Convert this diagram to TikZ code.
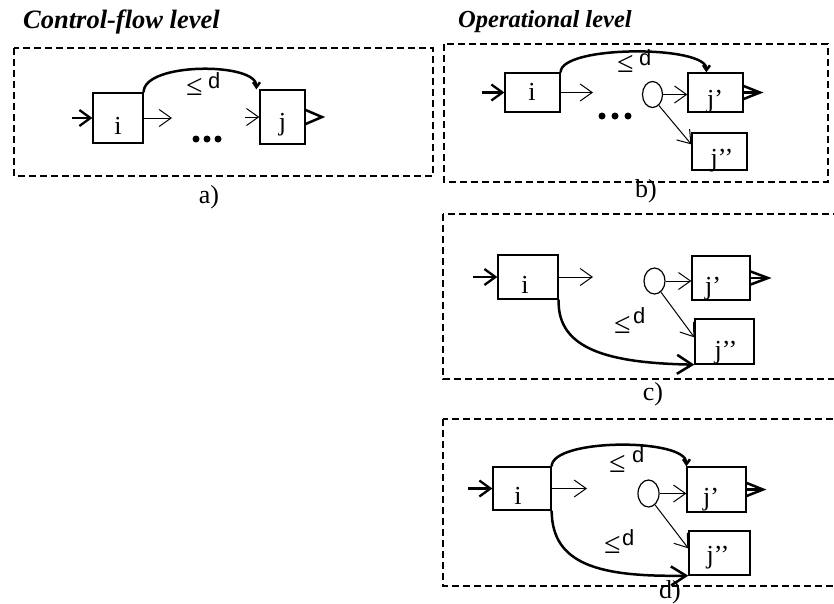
\documentclass[tikz,border=0pt]{standalone}
\usepackage{fontspec}
\setmainfont{Liberation Serif}
\newfontfamily\monof{Liberation Mono}
\usetikzlibrary{arrows.meta,shapes.geometric}
\newcommand{\leqd}[2]{{\fontsize{30}{30}\selectfont ≤}\hspace{#1pt}\raisebox{#2pt}{\monof d}}
\begin{document}
\begin{tikzpicture}[x=1pt,y=-1pt,
  dframe/.style={draw,dash pattern=on 7pt off 4pt,line width=1.2pt},
  blk/.style={draw,line width=1.3pt,inner sep=0pt},
  lbl/.style={font=\fontsize{26}{26}\selectfont,anchor=base,inner sep=0pt},
  ttl/.style={font=\bfseries\itshape,anchor=base west,inner sep=0pt},
  caplbl/.style={font=\fontsize{26}{26}\selectfont,anchor=base,inner sep=0pt},
  splitnode/.style={draw,ellipse,line width=1.2pt,minimum width=20pt,minimum height=26pt,inner sep=0pt},
  inarr/.style={line width=2.3pt,-{Straight Barb[length=11pt,width=16pt]}},
  flow/.style={line width=1pt,-{Straight Barb[length=12pt,width=17pt]}},
  outarr/.style={line width=2.5pt,line join=miter},
  dl/.style={line width=2.5pt,-{Straight Barb[length=5pt,width=7pt]}},
  dlbig/.style={line width=2.5pt,-{Straight Barb[length=15pt,width=19pt]}},
  dlab/.style={inner sep=0pt,anchor=base west,font=\fontsize{22}{22}\selectfont},
  dotnode/.style={fill,circle,inner sep=0pt,minimum size=7pt}
]
\useasboundingbox (0,0) rectangle (834,603);

% ---------------- titles
\node[ttl,font=\fontsize{26.5}{26.5}\selectfont\bfseries\itshape] (t1) at (23,28) {Control-flow level};
\node[ttl,font=\fontsize{24.5}{24.5}\selectfont\bfseries\itshape] (t2) at (458,27) {Operational level};

% ---------------- a)
\draw[dframe] (14,48) rectangle (433,176);
\node[blk,minimum width=50pt,minimum height=50pt] (ai) at (118,118) {};
\node[lbl] (ail) at (118,134) {i};
\node[blk,minimum width=45pt,minimum height=54pt] (aj) at (282.5,117) {};
\node[lbl] (ajl) at (282.5,130) {j};
\coordinate (ain) at (72,118);
\coordinate (aout) at (172,118);
\coordinate (ajin) at (245,117);
\coordinate (ajout) at (322,117);
\draw[inarr] (ain) -- (ai.west);
\draw[flow] (ai.east) -- (aout);
\draw[flow] (ajin) -- (aj.west);
\draw[outarr] ([yshift=7pt]aj.east) -- (ajout) -- ([yshift=-7pt]aj.east);
\node[dotnode] (ad1) at (196,139) {};
\node[dotnode] (ad2) at (207,139) {};
\node[dotnode] (ad3) at (218,139) {};
\draw[dl] (ai.north east) .. controls (143,62) and (257,62) .. ([xshift=-3pt]aj.north west);
\node[dlab] (ald) at (186,95) {\leqd{5}{7}};
\node[caplbl] (ac) at (209,203) {a)};

% ---------------- b)
\draw[dframe] (444,44) rectangle (828,182);
\node[blk,minimum width=55pt,minimum height=39pt] (bi) at (532.5,92.5) {};
\node[lbl] (bil) at (532,100) {i};
\node[blk,minimum width=55pt,minimum height=39pt] (bj1) at (715.5,92.5) {};
\node[lbl] (bj1l) at (715,107) {j’};
\node[blk,minimum width=55pt,minimum height=37pt] (bj2) at (719.5,151.5) {};
\node[lbl] (bj2l) at (722,166) {j’’};
\node[splitnode] (bc) at (652.5,94.5) {};
\coordinate (bin) at (482,92.5);
\coordinate (bout) at (593,92.5);
\coordinate (bjout) at (760,92.5);
\draw[inarr] (bin) -- (bi.west);
\draw[flow] (bi.east) -- (bout);
\draw[flow] (bc.east) -- (bc.east -| bj1.west);
\draw[flow] (bc.-60) -- ([yshift=-12pt]bj2.north west);
\draw[outarr] ([yshift=6.5pt]bj1.east) -- (bjout) -- ([yshift=-6.5pt]bj1.east);
\draw[outarr] (bj1.east) -- (bjout);
\node[dotnode] (bd1) at (602,116) {};
\node[dotnode] (bd2) at (615,116) {};
\node[dotnode] (bd3) at (628,116) {};
\draw[dl] (bi.north east) .. controls (560,45) and (707,45) .. ([xshift=19pt]bj1.north west);
\node[dlab] (bld) at (617,72) {\leqd{5}{7}};
\node[caplbl] (bcap) at (646,197) {b)};

% ---------------- c)
\draw[dframe] (443,214) rectangle (845,379);
\node[blk,minimum width=60pt,minimum height=44pt] (ci) at (528,277) {};
\node[lbl] (cil) at (525,293) {i};
\node[blk,minimum width=58pt,minimum height=44pt] (cj1) at (721,278) {};
\node[lbl] (cj1l) at (713,294) {j’};
\node[blk,minimum width=59pt,minimum height=45pt] (cj2) at (724.5,341.5) {};
\node[lbl] (cj2l) at (726,358) {j’’};
\node[splitnode,minimum width=21pt] (cc) at (654.5,281) {};
\coordinate (cin) at (473,277);
\coordinate (cout) at (593,277);
\coordinate (cjout) at (768,278);
\draw[inarr] (cin) -- (ci.west);
\draw[flow] (ci.east) -- (cout);
\draw[flow] (cc.east) -- (cc.east -| cj1.west);
\draw[flow] (cc.-60) -- ([yshift=-19pt]cj2.north west);
\draw[outarr] ([yshift=6.5pt]cj1.east) -- (cjout) -- ([yshift=-6.5pt]cj1.east);
\draw[outarr] (cj1.east) -- (cjout);
\draw[dlbig] (ci.south east) .. controls (557,350) and (610,363) .. (cj2.south west);
\node[dlab] (cld) at (614,333) {\leqd{2}{10}};
\node[caplbl] (ccap) at (653,400) {c)};

% ---------------- d)
\draw[dframe] (443,419) rectangle (845,586);
\node[blk,minimum width=58pt,minimum height=43pt] (di) at (522,488.5) {};
\node[lbl] (dil) at (518,504) {i};
\node[blk,minimum width=59pt,minimum height=45pt] (dj1) at (716.5,489.5) {};
\node[lbl] (dj1l) at (711,505) {j’};
\node[blk,minimum width=61pt,minimum height=44pt] (dj2) at (719.5,553) {};
\node[lbl] (dj2l) at (718,563) {j’’};
\node[splitnode,minimum width=21pt,minimum height=27pt] (dc) at (648.5,493.5) {};
\coordinate (din) at (468,488.5);
\coordinate (dout) at (587,488.5);
\coordinate (djout) at (763,489.5);
\draw[inarr] (din) -- (di.west);
\draw[flow] (di.east) -- (dout);
\draw[flow] (dc.east) -- (dc.east -| dj1.west);
\draw[flow] (dc.-60) -- ([yshift=-18pt]dj2.north west);
\draw[outarr] ([yshift=6.5pt]dj1.east) -- (djout) -- ([yshift=-6.5pt]dj1.east);
\draw[outarr] (dj1.east) -- (djout);
\draw[dl] (di.north east) .. controls (552,438) and (687,438) .. (dj1.north west);
\draw[dlbig] (di.south east) .. controls (552,565) and (600,577) .. (dj2.south west);
\node[dlab] (dld1) at (609,472) {\leqd{6}{10}};
\node[dlab] (dld2) at (604,553) {\leqd{1}{8}};
\node[caplbl] (dcap) at (670,598) {d)};
\end{tikzpicture}
\end{document}
